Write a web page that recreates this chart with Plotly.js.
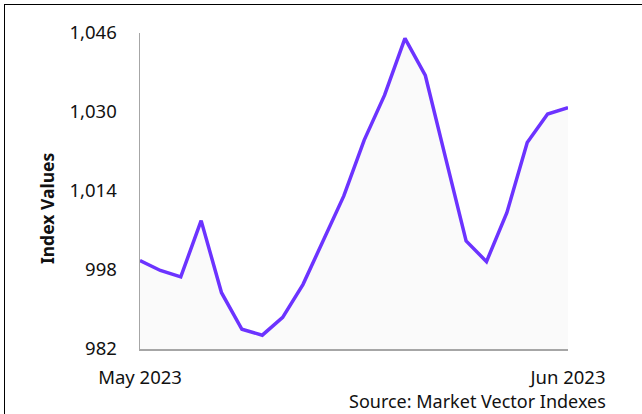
<!DOCTYPE html>
<html>
<head>
<meta charset="utf-8">
<script src="https://cdn.plot.ly/plotly-3.0.1.min.js"></script>
<style>
  html, body { margin: 0; padding: 0; background: #fff; }
  #wrap { position: relative; width: 642px; height: 414px; overflow: hidden; }
  #frame { position: absolute; left: 4px; top: 4px; width: 650px; height: 420px;
           border-left: 1.5px solid #000; border-top: 1.5px solid #000; pointer-events: none; z-index: 5; }
  #chart { position: absolute; left: 0; top: 0; width: 642px; height: 414px; }
</style>
</head>
<body>
<div id="wrap">
  <div id="chart"></div>
  <div id="frame"></div>
</div>
<script>
// Trading days (categorical x axis)
const dates = [
  "2023-05-03","2023-05-04","2023-05-05","2023-05-08","2023-05-09","2023-05-10",
  "2023-05-11","2023-05-12","2023-05-15","2023-05-16","2023-05-17","2023-05-18",
  "2023-05-19","2023-05-22","2023-05-23","2023-05-24","2023-05-25","2023-05-26",
  "2023-05-30","2023-05-31","2023-06-01","2023-06-02"
];
// Index values
const indexValues = [
  999.9, 997.9, 996.6, 1008.0, 993.4, 986.0, 984.8, 988.4, 995.1, 1004.1, 1013.0,
  1024.3, 1033.4, 1044.9, 1037.4, 1020.6, 1003.9, 999.7, 1009.6, 1023.8, 1029.6, 1030.9
];
const yTicks = [982, 998, 1014, 1030, 1046];
const xTickText = ["May 2023", "Jun 2023"];
const sourceText = "Source: Market Vector Indexes";
const yTitle = "Index Values";

const font = "Noto Sans, DejaVu Sans, sans-serif";

const trace = {
  x: dates,
  y: indexValues,
  type: "scatter",
  mode: "lines",
  line: { color: "#6c33ff", width: 3.5 },
  fill: "tozeroy",
  fillcolor: "#fafafa",
  hoverinfo: "skip"
};

const layout = {
  width: 642,
  height: 414,
  margin: { l: 140, r: 74, t: 33, b: 65 },
  paper_bgcolor: "#fff",
  plot_bgcolor: "#fff",
  showlegend: false,
  font: { family: font, size: 18.5, color: "#111" },
  xaxis: {
    type: "category",
    range: [0, dates.length - 1],
    tickvals: [dates[0], dates[dates.length - 1]],
    ticktext: xTickText,
    showgrid: false,
    zeroline: false,
    showline: true,
    linecolor: "#a6a6a6",
    linewidth: 1.5,
    ticks: "",
    ticklabelstandoff: 11,
    tickfont: { family: font, size: 18.5, color: "#111" }
  },
  yaxis: {
    range: [982, 1046],
    tickvals: yTicks,
    tickformat: ",d",
    showgrid: false,
    zeroline: false,
    showline: true,
    linecolor: "#a6a6a6",
    linewidth: 1.5,
    ticks: "",
    ticklabelstandoff: 18,
    tickfont: { family: font, size: 18.5, color: "#111" }
  },
  annotations: [{
    text: sourceText,
    xref: "paper", yref: "paper",
    x: 1.0935, y: -0.163,
    xanchor: "right", yanchor: "middle",
    showarrow: false,
    font: { family: font, size: 18, color: "#111" }
  }, {
    text: "<b>" + yTitle + "</b>",
    xref: "paper", yref: "paper",
    x: -0.2173, y: 0.446,
    xanchor: "center", yanchor: "middle",
    textangle: -90,
    showarrow: false,
    font: { family: font, size: 17.5, color: "#111" }
  }]
};

Plotly.newPlot("chart", [trace], layout, { displayModeBar: false, staticPlot: true });
</script>
</body>
</html>
